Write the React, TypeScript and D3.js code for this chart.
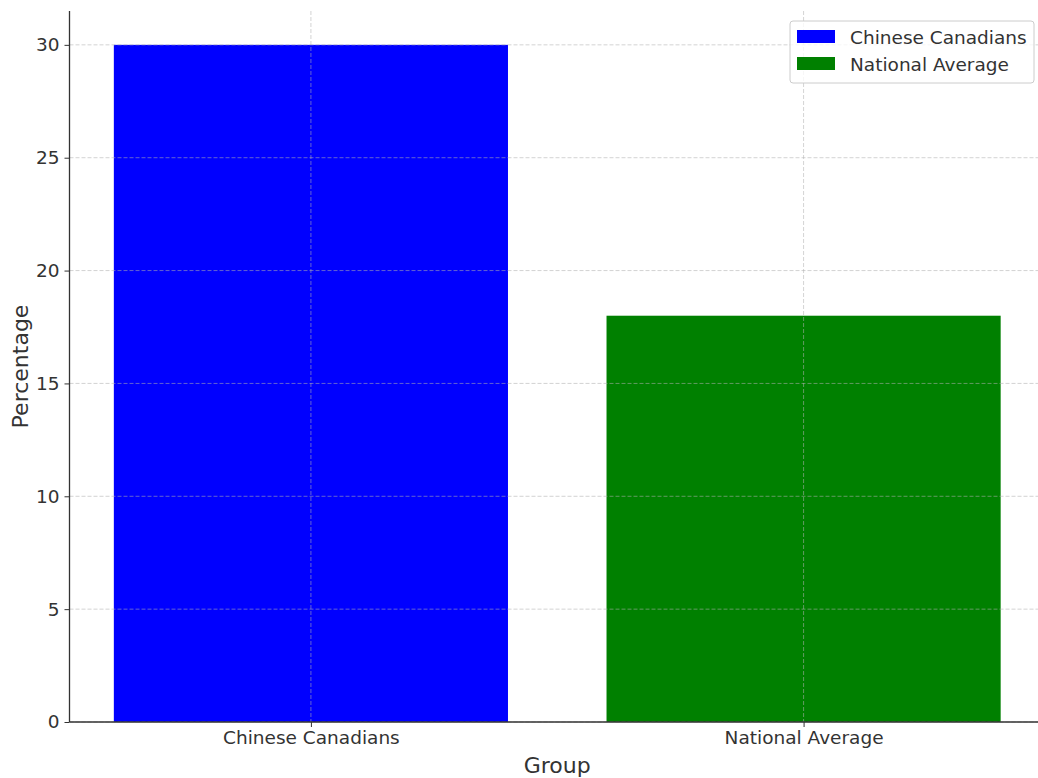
import { useEffect, useRef } from 'react';
import * as d3 from 'd3';

const groups = ['Chinese Canadians', 'National Average'];
const percentages = [30, 18];
const barColors = ['#0000ff', '#008000'];
const yTicks = [0, 5, 10, 15, 20, 25, 30];

export default function App() {
  const svgRef = useRef<SVGSVGElement>(null);

  useEffect(() => {
    if (!svgRef.current) return;
    const svg = d3.select(svgRef.current);
    svg.selectAll('*').remove();

    const width = 1038;
    const height = 778;
    const left = 69.5;
    const bottom = 722;
    const font = 'DejaVu Sans, sans-serif';
    const textColor = '#333333';
    const tickFont = '18.5px';
    const labelFont = '22px';

    svg.attr('width', width).attr('height', height);

    // x: bars at index 0,1 with width 0.8, matplotlib-like margins
    const x = d3.scaleLinear().domain([-0.49, 1.49]).range([left, 1045]);
    const y = d3.scaleLinear().domain([0, 31.5]).range([bottom, 11]);

    const g = svg.append('g');

    // Bars
    g.selectAll('rect.bar')
      .data(percentages)
      .enter()
      .append('rect')
      .attr('class', 'bar')
      .attr('x', (_, i) => x(i - 0.4))
      .attr('width', (_, i) => x(i + 0.4) - x(i - 0.4))
      .attr('y', d => y(d))
      .attr('height', d => bottom - y(d))
      .attr('fill', (_, i) => barColors[i]);

    // Grid (drawn above bars)
    g.selectAll('line.hgrid')
      .data(yTicks)
      .enter()
      .append('line')
      .attr('x1', left)
      .attr('x2', width)
      .attr('y1', d => y(d))
      .attr('y2', d => y(d))
      .attr('stroke', '#b0b0b0')
      .attr('stroke-opacity', 0.7)
      .attr('stroke-width', 0.8)
      .attr('stroke-dasharray', '4,2');

    g.selectAll('line.vgrid')
      .data(groups)
      .enter()
      .append('line')
      .attr('x1', (_, i) => x(i))
      .attr('x2', (_, i) => x(i))
      .attr('y1', 11)
      .attr('y2', bottom)
      .attr('stroke', '#b0b0b0')
      .attr('stroke-opacity', 0.7)
      .attr('stroke-width', 0.8)
      .attr('stroke-dasharray', '4,2');

    // Y axis
    const yAxis = g.append('g')
      .attr('transform', `translate(${left},0)`)
      .call(d3.axisLeft(y).tickValues(yTicks).tickSize(5).tickPadding(5).tickFormat(d3.format('d')));
    yAxis.select('.domain').attr('stroke', '#333333').attr('stroke-width', 1.3).attr('d', `M0,11V${bottom}`);
    yAxis.selectAll('.tick line').attr('stroke', '#333333');
    yAxis.selectAll('.tick text')
      .attr('fill', textColor)
      .attr('font-family', font)
      .attr('font-size', tickFont);

    // X axis
    const xAxis = g.append('g')
      .attr('transform', `translate(0,${bottom})`)
      .call(d3.axisBottom(x).tickValues([0, 1]).tickSize(5).tickPadding(4).tickFormat((_, i) => groups[i]));
    xAxis.select('.domain').attr('stroke', '#333333').attr('stroke-width', 1.3).attr('d', `M${left},0H${width}`);
    xAxis.selectAll('.tick line').attr('stroke', '#333333');
    xAxis.selectAll('.tick text')
      .attr('fill', textColor)
      .attr('font-family', font)
      .attr('font-size', tickFont);

    // Axis labels
    g.append('text')
      .attr('transform', `translate(28,${(bottom + 11) / 2}) rotate(-90)`)
      .attr('text-anchor', 'middle')
      .attr('fill', textColor)
      .attr('font-family', font)
      .attr('font-size', labelFont)
      .text('Percentage');

    g.append('text')
      .attr('x', (x(0) + x(1)) / 2)
      .attr('y', 773)
      .attr('text-anchor', 'middle')
      .attr('fill', textColor)
      .attr('font-family', font)
      .attr('font-size', labelFont)
      .text('Group');

    // Legend
    const legend = g.append('g').attr('transform', 'translate(790,21)');
    legend.append('rect')
      .attr('width', 244)
      .attr('height', 62)
      .attr('rx', 3)
      .attr('fill', '#ffffff')
      .attr('fill-opacity', 0.8)
      .attr('stroke', '#cccccc');
    groups.forEach((name, i) => {
      legend.append('rect')
        .attr('x', 7)
        .attr('y', 9 + i * 27)
        .attr('width', 38)
        .attr('height', 13)
        .attr('fill', barColors[i]);
      legend.append('text')
        .attr('x', 60)
        .attr('y', 16 + i * 27)
        .attr('dominant-baseline', 'central')
        .attr('fill', textColor)
        .attr('font-family', font)
        .attr('font-size', tickFont)
        .text(name);
    });
  }, []);

  return (
    <div style={{ position: 'absolute', left: 0, top: 0 }}>
      <svg ref={svgRef} style={{ display: 'block', overflow: 'hidden' }} />
    </div>
  );
}
